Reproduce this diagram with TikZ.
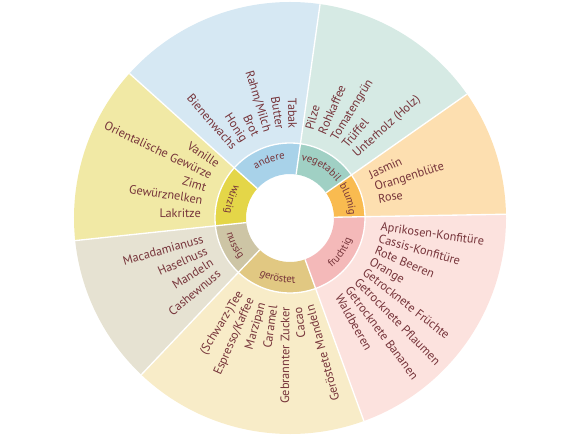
\documentclass[tikz,border=0pt]{standalone}
\usepackage{fontspec}
\setmainfont{PT Sans}
\usetikzlibrary{decorations.text}

\definecolor{labelcol}{RGB}{118,52,58}
% outer ring
\definecolor{andO}{RGB}{214,232,243}
\definecolor{vegO}{RGB}{214,234,228}
\definecolor{bluO}{RGB}{253,223,176}
\definecolor{fruO}{RGB}{252,226,222}
\definecolor{gerO}{RGB}{248,236,200}
\definecolor{nusO}{RGB}{230,226,210}
\definecolor{wurO}{RGB}{241,233,165}
% inner band
\definecolor{andI}{RGB}{168,210,233}
\definecolor{vegI}{RGB}{160,208,196}
\definecolor{bluI}{RGB}{249,187,80}
\definecolor{fruI}{RGB}{244,185,185}
\definecolor{gerI}{RGB}{225,200,130}
\definecolor{nusI}{RGB}{205,197,165}
\definecolor{wurI}{RGB}{228,214,72}

\newcommand\bandfont{\fontsize{8}{9}\selectfont}

\tikzset{
  lbl/.style={inner sep=0pt, text=labelcol, font=\fontsize{9.2}{11}\selectfont},
  lblR/.style={lbl, anchor=base west, rotate=#1},
  lblL/.style={lbl, anchor=base east, rotate=#1+180},
  sep/.style={white, line width=1pt},
  bandtext/.style={decorate, decoration={text along path, text={|\bandfont|#1},
      text align=center, text color=labelcol}},
}

\begin{document}
\begin{tikzpicture}[x=0.75pt,y=0.75pt]
\useasboundingbox (-290,-217) rectangle (290,218);

% outer ring
\fill[fruO] (-70:75) -- (-70:216) arc[start angle=-70, end angle=1, radius=216] -- (1:75) arc[start angle=1, end angle=-70, radius=75] -- cycle;
\fill[bluO] (1:75) -- (1:216) arc[start angle=1, end angle=35, radius=216] -- (35:75) arc[start angle=35, end angle=1, radius=75] -- cycle;
\fill[vegO] (35:75) -- (35:216) arc[start angle=35, end angle=82, radius=216] -- (82:75) arc[start angle=82, end angle=35, radius=75] -- cycle;
\fill[andO] (82:75) -- (82:216) arc[start angle=82, end angle=138, radius=216] -- (138:75) arc[start angle=138, end angle=82, radius=75] -- cycle;
\fill[wurO] (138:75) -- (138:216) arc[start angle=138, end angle=186, radius=216] -- (186:75) arc[start angle=186, end angle=138, radius=75] -- cycle;
\fill[nusO] (186:75) -- (186:216) arc[start angle=186, end angle=226.5, radius=216] -- (226.5:75) arc[start angle=226.5, end angle=186, radius=75] -- cycle;
\fill[gerO] (226.5:75) -- (226.5:216) arc[start angle=226.5, end angle=290, radius=216] -- (290:75) arc[start angle=290, end angle=226.5, radius=75] -- cycle;

% inner band
\fill[fruI] (-70:44) -- (-70:75) arc[start angle=-70, end angle=1, radius=75] -- (1:44) arc[start angle=1, end angle=-70, radius=44] -- cycle;
\fill[bluI] (1:44) -- (1:75) arc[start angle=1, end angle=35, radius=75] -- (35:44) arc[start angle=35, end angle=1, radius=44] -- cycle;
\fill[vegI] (35:44) -- (35:75) arc[start angle=35, end angle=82, radius=75] -- (82:44) arc[start angle=82, end angle=35, radius=44] -- cycle;
\fill[andI] (82:44) -- (82:75) arc[start angle=82, end angle=138, radius=75] -- (138:44) arc[start angle=138, end angle=82, radius=44] -- cycle;
\fill[wurI] (138:44) -- (138:75) arc[start angle=138, end angle=186, radius=75] -- (186:44) arc[start angle=186, end angle=138, radius=44] -- cycle;
\fill[nusI] (186:44) -- (186:75) arc[start angle=186, end angle=226.5, radius=75] -- (226.5:44) arc[start angle=226.5, end angle=186, radius=44] -- cycle;
\fill[gerI] (226.5:44) -- (226.5:75) arc[start angle=226.5, end angle=290, radius=75] -- (290:44) arc[start angle=290, end angle=226.5, radius=44] -- cycle;

% white separators
\draw[sep] (1:44) -- (1:216);
\draw[sep] (35:44) -- (35:216);
\draw[sep] (82:44) -- (82:216);
\draw[sep] (138:44) -- (138:216);
\draw[sep] (186:44) -- (186:216);
\draw[sep] (226.5:44) -- (226.5:216);
\draw[sep] (290:44) -- (290:216);
\draw[sep] (0,0) circle[radius=75];

% band labels
\path[bandtext=andere] (138:59) arc[start angle=138, end angle=82, radius=59];
\path[bandtext=vegetabil] (82:59) arc[start angle=82, end angle=35, radius=59];
\path[bandtext=blumig] (35:59) arc[start angle=35, end angle=1, radius=59];
\path[bandtext=fruchtig] (-70:65) arc[start angle=-70, end angle=1, radius=65];
\path[bandtext=geröstet] (226.5:65) arc[start angle=226.5, end angle=290, radius=65];
\path[bandtext=nussig] (186:65) arc[start angle=186, end angle=226.5, radius=65];
\path[bandtext=würzig] (138:65) arc[start angle=138, end angle=186, radius=65];

% andere
\node[lblL=91] (an1) at (91:89) {Tabak};
\node[lblL=99] (an2) at (99:89) {Butter};
\node[lblL=107] (an3) at (107:89) {Rahm/Milch};
\node[lblL=115] (an4) at (115:89) {Brot};
\node[lblL=123] (an5) at (123:89) {Honig};
\node[lblL=131] (an6) at (131:89) {Bienenwachs};

% vegetabil
\node[lblR=75] (ve1) at (75:90) {Pilze};
\node[lblR=66.75] (ve2) at (66.75:90) {Rohkaffee};
\node[lblR=58.5] (ve3) at (58.5:90) {Tomatengrün};
\node[lblR=50.25] (ve4) at (50.25:90) {Trüffel};
\node[lblR=42] (ve5) at (42:90) {Unterholz (Holz)};

% blumig
\node[lblR=25.5] (bl1) at (25.5:90) {Jasmin};
\node[lblR=17.5] (bl2) at (17.5:90) {Orangenblüte};
\node[lblR=9.5] (bl3) at (9.5:90) {Rose};

% fruchtig
\node[lblR=-8] (fr1) at (-8:91) {Aprikosen-Konfitüre};
\node[lblR=-15.5] (fr2) at (-15.5:91) {Cassis-Konfitüre};
\node[lblR=-23] (fr3) at (-23:91) {Rote Beeren};
\node[lblR=-30.5] (fr4) at (-30.5:91) {Orange};
\node[lblR=-38] (fr5) at (-38:91) {Getrocknete Früchte};
\node[lblR=-45.5] (fr6) at (-45.5:91) {Getrocknete Pflaumen};
\node[lblR=-53] (fr7) at (-53:91) {Getrocknete Bananen};
\node[lblR=-60.5] (fr8) at (-60.5:91) {Waldbeeren};

% geröstet
\node[lblL=238.5] (ge1) at (238.5:89) {(Schwarz-)Tee};
\node[lblL=246.3] (ge2) at (246.3:89) {Espresso/Kaffee};
\node[lblL=254.1] (ge3) at (254.1:89) {Marzipan};
\node[lblL=261.9] (ge4) at (261.9:89) {Caramel};
\node[lblL=269.7] (ge5) at (269.7:89) {Gebrannter Zucker};
\node[lblL=277.5] (ge6) at (277.5:89) {Cacao};
\node[lblL=285.3] (ge7) at (285.3:89) {Geröstete Mandeln};

% nussig
\node[lblL=196] (nu1) at (196:89) {Macadamianuss};
\node[lblL=204] (nu2) at (204:89) {Haselnuss};
\node[lblL=212] (nu3) at (212:89) {Mandeln};
\node[lblL=220] (nu4) at (220:89) {Cashewnuss};

% würzig
\node[lblL=146] (wu1) at (146:89) {Vanille};
\node[lblL=154.4] (wu2) at (154.4:89) {Orientalische Gewürze};
\node[lblL=162.8] (wu3) at (162.8:89) {Zimt};
\node[lblL=171.2] (wu4) at (171.2:89) {Gewürznelken};
\node[lblL=179.6] (wu5) at (179.6:89) {Lakritze};
\end{tikzpicture}
\end{document}
